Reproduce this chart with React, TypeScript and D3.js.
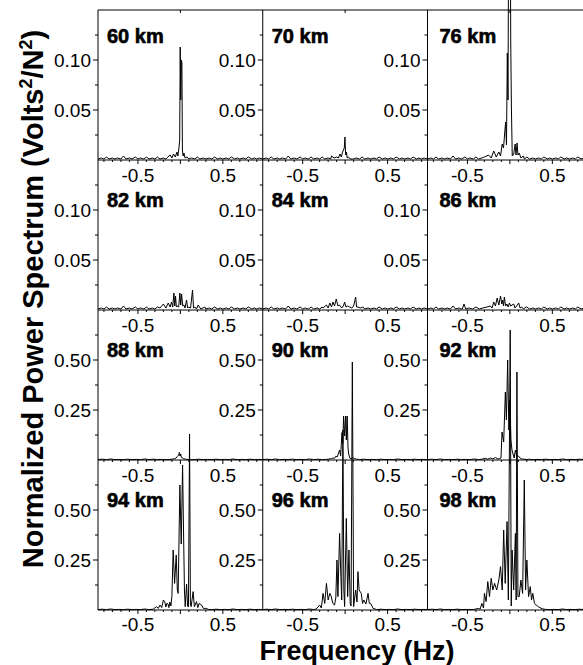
import { useEffect } from 'react';
import * as d3 from 'd3';

type Pt = [number, number];

// panel names, row by row
const altitudes = ['60 km', '70 km', '76 km', '82 km', '84 km', '86 km', '88 km', '90 km', '92 km', '94 km', '96 km', '98 km'];
const rowMax = [0.15, 0.15, 0.75, 0.75];
const yTicksLow = [0.05, 0.1];
const yTicksHigh = [0.25, 0.5];
const xTickValues = [-0.5, 0.5];
const xTickLabels = ['-0.5', '0.5'];
const freqDomain: Pt = [-0.97, 0.97];

const noiseLow: Pt[] = [[-0.97, 0.001], [-0.93, 0.002], [-0.9, 0.001], [-0.87, 0.003], [-0.84, 0.001], [-0.8, 0.002], [-0.77, 0.001], [-0.74, 0.002], [-0.7, 0.001], [-0.67, 0.004], [-0.64, 0.001], [-0.6, 0.002], [-0.57, 0.001], [-0.53, 0.003], [-0.5, 0.001], [-0.47, 0.002], [-0.43, 0.001], [-0.4, 0.003], [-0.37, 0.001], [-0.33, 0.002], [-0.3, 0.001], [-0.27, 0.003], [-0.24, 0.001], [-0.2, 0.002], [-0.17, 0.001], [-0.13, 0.002], [-0.1, 0.001], [0.1, 0.001], [0.13, 0.002], [0.17, 0.001], [0.2, 0.003], [0.23, 0.001], [0.27, 0.002], [0.3, 0.001], [0.34, 0.002], [0.37, 0.001], [0.4, 0.003], [0.44, 0.001], [0.47, 0.002], [0.5, 0.001], [0.54, 0.002], [0.57, 0.001], [0.6, 0.003], [0.64, 0.001], [0.67, 0.002], [0.7, 0.001], [0.74, 0.002], [0.77, 0.001], [0.8, 0.003], [0.84, 0.001], [0.87, 0.002], [0.9, 0.001], [0.93, 0.002], [0.97, 0.001]];
const noiseHigh: Pt[] = [[-0.97, 0.002], [-0.92, 0.004], [-0.87, 0.002], [-0.82, 0.005], [-0.77, 0.002], [-0.72, 0.003], [-0.67, 0.002], [-0.62, 0.004], [-0.57, 0.002], [-0.52, 0.003], [-0.47, 0.002], [-0.42, 0.005], [-0.37, 0.002], [-0.32, 0.004], [-0.27, 0.002], [-0.22, 0.003], [-0.17, 0.002], [0.17, 0.002], [0.22, 0.004], [0.27, 0.002], [0.32, 0.003], [0.37, 0.002], [0.42, 0.004], [0.47, 0.002], [0.52, 0.003], [0.57, 0.002], [0.62, 0.005], [0.67, 0.002], [0.72, 0.003], [0.77, 0.002], [0.82, 0.004], [0.87, 0.002], [0.92, 0.003], [0.97, 0.002]];

// peak regions, [frequency Hz, power]
const km60: Pt[] = [[-0.16, 0.002], [-0.12, 0.005], [-0.1, 0.002], [-0.08, 0.006], [-0.06, 0.003], [-0.04, 0.008], [-0.03, 0.004], [-0.018, 0.011], [-0.008, 0.02], [-0.002, 0.113], [0.005, 0.06], [0.012, 0.1], [0.018, 0.097], [0.024, 0.01], [0.032, 0.004], [0.042, 0.007], [0.055, 0.002], [0.08, 0.003]];
const km70: Pt[] = [[-0.16, 0.004], [-0.13, 0.002], [-0.1, 0.003], [-0.08, 0.002], [-0.06, 0.006], [-0.045, 0.003], [-0.03, 0.008], [-0.02, 0.01], [-0.01, 0.012], [-0.002, 0.023], [0.006, 0.005], [0.015, 0.008], [0.025, 0.002], [0.04, 0.003], [0.06, 0.001]];
const km76: Pt[] = [[-0.3, 0.003], [-0.25, 0.005], [-0.22, 0.002], [-0.19, 0.009], [-0.16, 0.003], [-0.13, 0.008], [-0.11, 0.004], [-0.09, 0.016], [-0.075, 0.012], [-0.062, 0.026], [-0.05, 0.038], [-0.04, 0.015], [-0.03, 0.107], [-0.022, 0.06], [-0.014, 0.25], [0.004, 0.25], [0.01, 0.12], [0.018, 0.053], [0.028, 0.004], [0.045, 0.006], [0.062, 0.016], [0.072, 0.005], [0.085, 0.017], [0.095, 0.005], [0.11, 0.007], [0.13, 0.002], [0.16, 0.004]];
const km82: Pt[] = [[-0.24, 0.002], [-0.2, 0.006], [-0.17, 0.002], [-0.143, 0.007], [-0.12, 0.003], [-0.104, 0.008], [-0.09, 0.003], [-0.076, 0.017], [-0.066, 0.004], [-0.057, 0.014], [-0.047, 0.003], [-0.037, 0.004], [-0.02, 0.003], [-0.006, 0.017], [0.004, 0.005], [0.014, 0.016], [0.028, 0.004], [0.041, 0.005], [0.055, 0.002], [0.073, 0.01], [0.085, 0.002], [0.096, 0.003], [0.12, 0.002], [0.143, 0.02], [0.155, 0.002], [0.171, 0.003], [0.19, 0.001], [0.21, 0.005], [0.24, 0.001], [0.288, 0.003]];
const km84: Pt[] = [[-0.26, 0.002], [-0.22, 0.005], [-0.2, 0.002], [-0.18, 0.007], [-0.16, 0.003], [-0.143, 0.008], [-0.125, 0.004], [-0.104, 0.011], [-0.085, 0.004], [-0.065, 0.005], [-0.04, 0.002], [-0.02, 0.004], [-0.006, 0.008], [0.01, 0.003], [0.03, 0.004], [0.053, 0.003], [0.08, 0.002], [0.1, 0.004], [0.124, 0.013], [0.135, 0.003], [0.151, 0.003], [0.18, 0.002], [0.21, 0.003]];
const km86: Pt[] = [[-0.56, 0.001], [-0.54, 0.006], [-0.52, 0.001], [-0.48, 0.002], [-0.44, 0.001], [-0.4, 0.003], [-0.36, 0.001], [-0.32, 0.002], [-0.27, 0.003], [-0.23, 0.004], [-0.21, 0.002], [-0.19, 0.008], [-0.17, 0.004], [-0.15, 0.012], [-0.13, 0.005], [-0.11, 0.014], [-0.095, 0.006], [-0.085, 0.01], [-0.075, 0.004], [-0.065, 0.013], [-0.05, 0.004], [-0.035, 0.006], [-0.02, 0.003], [-0.005, 0.007], [0.01, 0.004], [0.025, 0.005], [0.045, 0.006], [0.06, 0.002], [0.08, 0.004], [0.104, 0.007], [0.12, 0.002], [0.14, 0.003], [0.16, 0.001], [0.19, 0.003]];
const km88: Pt[] = [[-0.15, 0.002], [-0.1, 0.004], [-0.07, 0.006], [-0.05, 0.01], [-0.035, 0.018], [-0.02, 0.025], [-0.012, 0.038], [-0.004, 0.02], [0.004, 0.03], [0.012, 0.012], [0.025, 0.01], [0.04, 0.006], [0.06, 0.004], [0.08, 0.003], [0.12, 0.002]];
const km90: Pt[] = [[-0.2, 0.004], [-0.16, 0.007], [-0.143, 0.01], [-0.125, 0.008], [-0.11, 0.019], [-0.095, 0.015], [-0.085, 0.025], [-0.065, 0.05], [-0.053, 0.02], [-0.037, 0.137], [-0.028, 0.083], [-0.018, 0.22], [-0.006, 0.12], [0.006, 0.22], [0.014, 0.1], [0.024, 0.22], [0.034, 0.06], [0.042, 0.03], [0.055, 0.01], [0.07, 0.006], [0.09, 0.012], [0.11, 0.008], [0.13, 0.004], [0.16, 0.003]];
const km92: Pt[] = [[-0.33, 0.004], [-0.29, 0.008], [-0.26, 0.004], [-0.23, 0.01], [-0.2, 0.006], [-0.17, 0.012], [-0.14, 0.005], [-0.12, 0.008], [-0.105, 0.01], [-0.092, 0.14], [-0.073, 0.09], [-0.053, 0.34], [-0.041, 0.2], [-0.026, 0.5], [-0.012, 0.15], [0.0, 0.3], [0.012, 0.1], [0.025, 0.05], [0.037, 0.03], [0.05, 0.01], [0.065, 0.05], [0.08, 0.02], [0.1, 0.02], [0.12, 0.01], [0.14, 0.005], [0.17, 0.004], [0.2, 0.002]];
const km94: Pt[] = [[-0.32, 0.004], [-0.28, 0.017], [-0.26, 0.008], [-0.24, 0.025], [-0.22, 0.012], [-0.2, 0.05], [-0.185, 0.042], [-0.17, 0.015], [-0.16, 0.033], [-0.145, 0.03], [-0.135, 0.012], [-0.124, 0.04], [-0.112, 0.02], [-0.1, 0.067], [-0.085, 0.3], [-0.068, 0.133], [-0.049, 0.275], [-0.036, 0.1], [-0.026, 0.083], [-0.006, 0.625], [0.01, 0.33], [0.026, 0.725], [0.037, 0.4], [0.048, 0.1], [0.057, 0.017], [0.073, 0.13], [0.085, 0.02], [0.095, 0.015], [0.108, 0.88], [0.118, 0.03], [0.127, 0.017], [0.15, 0.092], [0.165, 0.017], [0.19, 0.042], [0.205, 0.012], [0.22, 0.033], [0.25, 0.025], [0.27, 0.008], [0.3, 0.008], [0.33, 0.003]];
const km96: Pt[] = [[-0.34, 0.005], [-0.3, 0.025], [-0.28, 0.01], [-0.26, 0.083], [-0.24, 0.033], [-0.22, 0.133], [-0.2, 0.05], [-0.18, 0.083], [-0.163, 0.067], [-0.145, 0.033], [-0.125, 0.025], [-0.11, 0.06], [-0.096, 0.25], [-0.085, 0.067], [-0.065, 0.383], [-0.05, 0.167], [-0.04, 0.05], [-0.026, 0.9], [-0.015, 0.1], [-0.006, 0.017], [0.014, 0.458], [0.03, 0.067], [0.045, 0.3], [0.06, 0.03], [0.07, 0.02], [0.085, 1.24], [0.1, 0.017], [0.124, 0.1], [0.14, 0.04], [0.151, 0.192], [0.165, 0.1], [0.19, 0.083], [0.205, 0.033], [0.22, 0.05], [0.245, 0.03], [0.27, 0.083], [0.285, 0.033], [0.3, 0.033], [0.33, 0.008], [0.36, 0.004]];
const km98: Pt[] = [[-0.42, 0.003], [-0.37, 0.008], [-0.35, 0.004], [-0.33, 0.033], [-0.31, 0.01], [-0.3, 0.083], [-0.28, 0.042], [-0.26, 0.142], [-0.24, 0.067], [-0.22, 0.158], [-0.2, 0.1], [-0.18, 0.133], [-0.155, 0.1], [-0.13, 0.15], [-0.11, 0.217], [-0.09, 0.1], [-0.073, 0.4], [-0.055, 0.133], [-0.033, 0.442], [-0.018, 0.05], [0.004, 1.4], [0.016, 0.02], [0.026, 0.3], [0.045, 0.1], [0.065, 0.383], [0.074, 0.05], [0.083, 1.19], [0.095, 0.067], [0.11, 0.067], [0.13, 0.15], [0.15, 0.083], [0.17, 0.65], [0.185, 0.1], [0.2, 0.25], [0.22, 0.067], [0.24, 0.117], [0.255, 0.05], [0.27, 0.083], [0.29, 0.033], [0.31, 0.025], [0.34, 0.015], [0.38, 0.006], [0.42, 0.003]];

const spectra = [km60, km70, km76, km82, km84, km86, km88, km90, km92, km94, km96, km98];

const tickFont = 'Liberation Sans, Arial, sans-serif';

function withNoise(peaks: Pt[], noise: Pt[]): Pt[] {
  const lo = peaks[0][0];
  const hi = peaks[peaks.length - 1][0];
  return [...noise.filter((p) => p[0] < lo), ...peaks, ...noise.filter((p) => p[0] > hi)];
}

export default function App() {
  useEffect(() => {
    document.body.style.margin = '0';
  }, []);

  const width = 583;
  const height = 665;
  const left = 98;
  const top = 10;
  const colW = 164.75;
  const rowH = 150;
  const nRows = 4;

  const panels = altitudes.map((name, i) => {
    const col = i % 3;
    const row = Math.floor(i / 3);
    const x = d3.scaleLinear().domain(freqDomain).range([left + col * colW, left + (col + 1) * colW]);
    const y = d3.scaleLinear().domain([0, rowMax[row]]).range([top + (row + 1) * rowH, top + row * rowH]);
    const labeled = rowMax[row] < 0.5 ? yTicksLow : yTicksHigh;
    const half = (labeled[1] - labeled[0]) / 2;
    const minor = d3.range(half, rowMax[row] - 1e-9, half).filter((v) => !labeled.some((l) => Math.abs(l - v) < 1e-9));
    const pts = withNoise(spectra[i], row < 2 ? noiseLow : noiseHigh);
    const path = d3.line<Pt>().x((d) => x(d[0])).y((d) => y(d[1]))(pts) || '';
    return { name, col, row, x, y, labeled, minor, path };
  });

  const xMinor = d3.range(-0.9, 0.95, 0.1);

  return (
    <svg width={width} height={height} style={{ display: 'block', background: '#fff' }}>
      {/* top frame line */}
      <line x1={left} x2={width} y1={top} y2={top} stroke="#000" strokeWidth={1} />
      {panels.map((p) => {
        const x0 = p.x.range()[0];
        const yb = p.y.range()[0];
        const yt = p.y.range()[1];
        const labelY = p.row === nRows - 1 ? yb + 20.5 : yb + 22;
        return (
          <g key={p.name}>
            <line x1={x0} x2={x0} y1={yt} y2={yb} stroke="#000" strokeWidth={1} />
            <line x1={x0} x2={p.x.range()[1]} y1={yb} y2={yb} stroke="#000" strokeWidth={1} />
            {p.row === 0 && <line x1={p.x(0)} x2={p.x(0)} y1={yt} y2={yt + 3} stroke="#000" />}
            {xMinor.map((v) => (
              <line key={v} x1={p.x(v)} x2={p.x(v)} y1={yb} y2={yb + (Math.abs(Math.abs(v) - 0.5) < 1e-6 || Math.abs(v) < 1e-6 ? 4 : 2)} stroke="#000" strokeWidth={1} />
            ))}
            {p.labeled.map((v) => (
              <line key={'y' + v} x1={x0 - 5} x2={x0} y1={p.y(v)} y2={p.y(v)} stroke="#000" />
            ))}
            {p.minor.map((v) => (
              <line key={'m' + v} x1={x0 - 3} x2={x0} y1={p.y(v)} y2={p.y(v)} stroke="#000" />
            ))}
            {p.labeled.map((v) => (
              <text key={'t' + v} x={x0 - 7} y={p.y(v)} dy="0.35em" textAnchor="end" fontFamily={tickFont} fontSize={19}>
                {d3.format('.2f')(v)}
              </text>
            ))}
            {xTickValues.map((v, k) => (
              <text key={'x' + v} x={p.x(v)} y={labelY} textAnchor="middle" fontFamily={tickFont} fontSize={19}>
                {xTickLabels[k]}
              </text>
            ))}
          </g>
        );
      })}
      {panels.map((p) => (
        <path key={'s' + p.name} d={p.path} fill="none" stroke="#000" strokeWidth={1} strokeLinejoin="miter" />
      ))}
      {panels.map((p) => (
        <text
          key={'n' + p.name}
          x={p.x.range()[0] + (p.col === 2 ? 12 : 9)}
          y={p.y.range()[1] + (p.row === 0 ? 33 : 47)}
          fontFamily={tickFont}
          fontWeight="bold"
          fontSize={20}
          stroke="#000"
          strokeWidth={0.6}
        >
          {p.name}
        </text>
      ))}
      <text
        transform={`translate(43,${top + (nRows * rowH) / 2 - 11}) rotate(-90)`}
        textAnchor="middle"
        fontFamily={tickFont}
        fontWeight="bold"
        fontSize={29}
      >
        Normalized Power Spectrum (Volts<tspan dy={-11} fontSize={18}>2</tspan>
        <tspan dy={11}>/N</tspan>
        <tspan dy={-11} fontSize={18}>2</tspan>
        <tspan dy={11}>)</tspan>
      </text>
      <text x={357} y={659.5} textAnchor="middle" fontFamily={tickFont} fontWeight="bold" fontSize={27}>
        Frequency (Hz)
      </text>
    </svg>
  );
}
